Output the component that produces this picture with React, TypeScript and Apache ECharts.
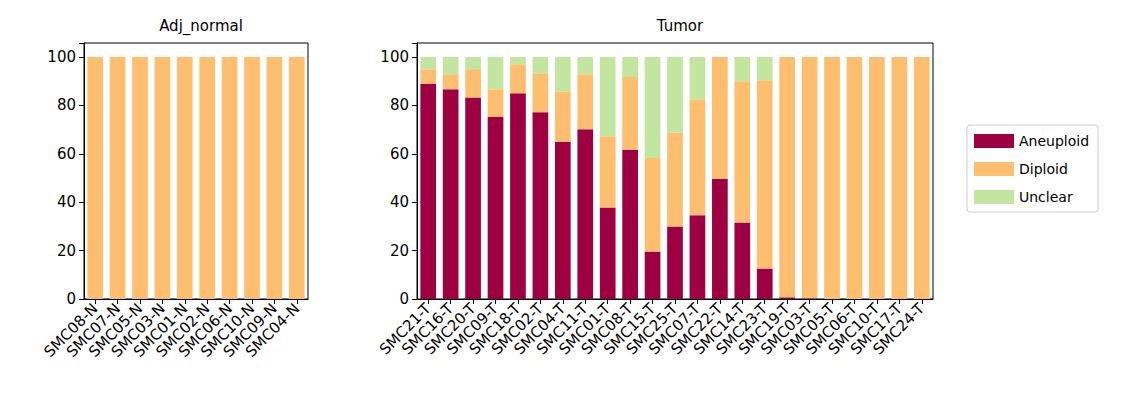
import React, { useEffect, useRef } from "react";
import * as echarts from "echarts";

const normalCats = ["SMC08-N","SMC07-N","SMC05-N","SMC03-N","SMC01-N","SMC02-N","SMC06-N","SMC10-N","SMC09-N","SMC04-N"];
const normalDiploid = [100,100,100,100,100,100,100,100,100,100];
const tumorCats = ["SMC21-T","SMC16-T","SMC20-T","SMC09-T","SMC18-T","SMC02-T","SMC04-T","SMC11-T","SMC01-T","SMC08-T","SMC15-T","SMC25-T","SMC07-T","SMC22-T","SMC14-T","SMC23-T","SMC19-T","SMC03-T","SMC05-T","SMC06-T","SMC10-T","SMC17-T","SMC24-T"];
const tumorAneuploid = [89,86.7,83.3,75.2,85,77.2,65,70.2,37.8,61.7,19.6,30,34.6,49.7,31.6,12.6,0.7,0.3,0,0,0,0,0];
const tumorDiploid = [6,6.2,11.7,11.5,12,16.1,20.8,22.7,29.5,30,38.7,38.7,48,50.3,58.4,77.8,99.3,99.7,100,100,100,100,100];
const tumorUnclear = [5,7.1,5,13.3,3,6.7,14.2,7.1,32.7,8.3,41.7,31.3,17.4,0,10,9.6,0,0,0,0,0,0,0];

const C_A = "#9e0142", C_D = "#fdbe6f", C_U = "#c2e5a0";
const font = "DejaVu Sans";

export default function App() {
  const ref = useRef<HTMLDivElement>(null);
  useEffect(() => {
    document.body.style.margin = "0";
    const chart = echarts.init(ref.current!, null, { renderer: "svg" });
    const axisLine = { show: true, lineStyle: { color: "#000", width: 1 } };
    const xAxis = (idx: number, data: string[]) => ({
      type: "category", gridIndex: idx, data,
      axisLine, axisTick: { show: true, alignWithLabel: true, length: 5, lineStyle: { color: "#000" } },
      axisLabel: { rotate: 45, interval: 0, color: "#000", fontFamily: font, fontSize: 15, margin: 7 },
    });
    const yAxis = (idx: number) => ({
      type: "value", gridIndex: idx, min: 0, max: 105.8, interval: 20,
      axisLine, axisTick: { show: true, length: 5, lineStyle: { color: "#000" } },
      splitLine: { show: false },
      axisLabel: { color: "#000", fontFamily: font, fontSize: 15, formatter: (v: number) => (v > 100 ? "" : String(v)) },
    });
    const bw = "70%";
    const ts = { fontFamily: font, fontSize: 15, fontWeight: "normal", color: "#000" };
    chart.setOption({
      animation: false,
      title: [
        { text: "Adj_normal", left: 196, top: 13, textAlign: "center", textStyle: ts },
        { text: "Tumor", left: 675, top: 13, textAlign: "center", textStyle: ts },
      ],
      grid: [
        { left: 84, top: 43, width: 224, height: 256, show: true, borderColor: "#000", borderWidth: 1 },
        { left: 417, top: 43, width: 516, height: 256, show: true, borderColor: "#000", borderWidth: 1 },
      ],
      xAxis: [xAxis(0, normalCats), xAxis(1, tumorCats)],
      yAxis: [yAxis(0), yAxis(1)],
      legend: {
        orient: "vertical", left: 967, top: 125, itemWidth: 40, itemHeight: 14, itemGap: 14,
        padding: [9, 9, 8, 7], borderColor: "#ccc", borderWidth: 1, borderRadius: 3,
        icon: "rect", textStyle: { fontFamily: font, fontSize: 14, color: "#000" },
        data: ["Aneuploid", "Diploid", "Unclear"],
      },
      series: [
        { name: "Diploid", type: "bar", xAxisIndex: 0, yAxisIndex: 0, stack: "n", barWidth: bw, data: normalDiploid, itemStyle: { color: C_D } },
        { name: "Aneuploid", type: "bar", xAxisIndex: 1, yAxisIndex: 1, stack: "t", barWidth: bw, data: tumorAneuploid, itemStyle: { color: C_A } },
        { name: "Diploid", type: "bar", xAxisIndex: 1, yAxisIndex: 1, stack: "t", barWidth: bw, data: tumorDiploid, itemStyle: { color: C_D } },
        { name: "Unclear", type: "bar", xAxisIndex: 1, yAxisIndex: 1, stack: "t", barWidth: bw, data: tumorUnclear, itemStyle: { color: C_U } },
      ],
    });
    return () => chart.dispose();
  }, []);
  return <div ref={ref} style={{ width: 1142, height: 410 }} />;
}
